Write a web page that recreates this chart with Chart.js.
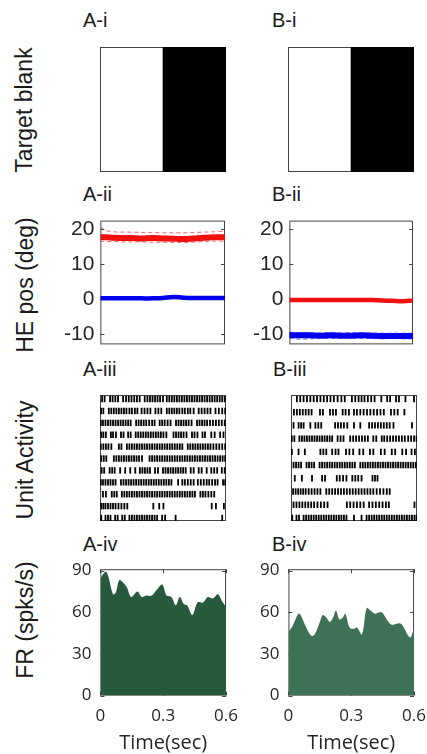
<!DOCTYPE html>
<html>
<head>
<meta charset="utf-8">
<script src="https://cdn.jsdelivr.net/npm/chart.js@4.4.0/dist/chart.umd.min.js"></script>
<style>
  body { margin: 0; background: #fff; width: 427px; height: 754px; position: relative; overflow: hidden; }
  canvas { position: absolute; }
  .lbl { position: absolute; font-family: "Liberation Sans", Arial, sans-serif; font-size: 20px; line-height: 1; color: #1a1a1a; white-space: nowrap; }
  .rot { position: absolute; font-family: "Liberation Sans", Arial, sans-serif; font-size: 23px; line-height: 1; color: #1a1a1a; white-space: nowrap; transform: translate(-50%, -50%) rotate(-90deg); }
</style>
</head>
<body>
<div class="lbl" style="left:83px; top:10px">A-i</div>
<div class="lbl" style="left:272px; top:10px">B-i</div>
<div class="lbl" style="left:83px; top:184px">A-ii</div>
<div class="lbl" style="left:272px; top:184px">B-ii</div>
<div class="lbl" style="left:83px; top:359px">A-iii</div>
<div class="lbl" style="left:273px; top:359px">B-iii</div>
<div class="lbl" style="left:83px; top:534px">A-iv</div>
<div class="lbl" style="left:272px; top:534px">B-iv</div>
<div class="rot" style="left:24px; top:110px">Target blank</div>
<div class="rot" style="left:25px; top:285px">HE pos (deg)</div>
<div class="rot" style="left:25px; top:460px">Unit Activity</div>
<div class="rot" style="left:25px; top:620px">FR (spks/s)</div>

<script>
// ---- data ----
// target blank: dark half of the screen (0..1 across the panel)
const blankDark = [0.5, 1];

// head/eye position traces (deg), mean and +/- spread
const heTime = [0, 0.03, 0.06, 0.1, 0.15, 0.2, 0.25, 0.3, 0.35, 0.4, 0.45, 0.5, 0.55, 0.6];
const aRed   = [17.8, 17.7, 17.6, 17.5, 17.5, 17.4, 17.5, 17.4, 17.3, 17.2, 17.4, 17.6, 17.7, 17.7];
const aRedHi = [20.6, 19.6, 19.3, 19.2, 19.2, 19.1, 19.1, 19.0, 19.0, 19.0, 19.1, 19.2, 19.3, 19.4];
const aRedLo = [16.6, 16.5, 16.5, 16.4, 16.4, 16.4, 16.3, 16.3, 16.2, 16.2, 16.3, 16.5, 16.6, 16.6];
const aBlue  = [0.2, 0.2, 0.2, 0.2, 0.2, 0.2, 0.2, 0.3, 0.6, 0.4, 0.3, 0.3, 0.3, 0.3];
const bRed   = [-0.3, -0.3, -0.3, -0.3, -0.3, -0.3, -0.3, -0.3, -0.3, -0.3, -0.4, -0.5, -0.6, -0.4];
const bBlue  = [-10.3, -10.4, -10.4, -10.4, -10.5, -10.4, -10.5, -10.5, -10.4, -10.5, -10.6, -10.6, -10.6, -10.6];
const bBlueHi = [-9.5, -9.6, -9.6, -9.7, -9.7, -9.6, -9.7, -9.7, -9.7, -9.8, -9.8, -9.8, -9.8, -9.8];
const bBlueLo = [-11.2, -11.4, -11.5, -11.4, -11.3, -11.3, -11.3, -11.2, -11.3, -11.3, -11.4, -11.3, -11.4, -11.4];
const heTicks = [-10, 0, 10, 20];

// spike times (ms) for each trial
const rasterA = [
  [10, 22, 48, 60, 73, 86, 110, 124, 137, 150, 163, 176, 189, 213, 226, 238, 250, 262, 274, 286, 300, 318, 330, 342, 354, 366, 378, 390, 402, 414, 426, 438, 450, 462, 474, 486, 498, 510, 522, 534, 546, 558, 570, 582, 594],
  [5, 16, 42, 54, 66, 78, 90, 102, 114, 126, 140, 152, 166, 178, 198, 212, 226, 240, 264, 278, 292, 318, 330, 342, 354, 366, 378, 392, 404, 418, 430, 446, 470, 484, 498, 512, 526, 550, 566, 582, 596],
  [4, 14, 26, 38, 50, 62, 74, 86, 98, 110, 122, 134, 146, 172, 184, 196, 208, 220, 234, 248, 260, 284, 296, 308, 322, 336, 362, 374, 386, 398, 410, 422, 436, 462, 474, 486, 498, 510, 524, 538, 552, 566, 580, 594],
  [6, 16, 28, 52, 62, 76, 100, 112, 134, 146, 170, 182, 194, 206, 218, 230, 242, 254, 266, 278, 290, 302, 316, 350, 362, 374, 386, 398, 412, 438, 450, 464, 488, 500, 530, 546, 572, 588],
  [4, 16, 28, 40, 54, 90, 102, 128, 140, 152, 164, 176, 188, 200, 212, 224, 236, 248, 260, 272, 284, 296, 308, 320, 332, 344, 356, 368, 380, 392, 418, 430, 442, 454, 466, 478, 490, 502, 514, 526, 540, 554, 568, 582, 596],
  [6, 18, 30, 66, 78, 90, 102, 114, 126, 138, 150, 162, 174, 186, 200, 236, 248, 260, 272, 284, 296, 308, 320, 332, 344, 356, 368, 380, 392, 404, 416, 428, 440, 452, 464, 476, 488, 500, 512, 524, 536, 548, 560, 572, 584, 596],
  [8, 20, 46, 58, 70, 96, 120, 144, 168, 190, 202, 214, 226, 238, 262, 276, 300, 312, 324, 336, 348, 360, 372, 384, 396, 408, 432, 446, 470, 484, 508, 530, 544, 558, 580, 594],
  [4, 14, 26, 38, 50, 62, 74, 100, 112, 124, 136, 148, 160, 172, 184, 196, 208, 220, 232, 244, 256, 268, 280, 292, 304, 316, 328, 340, 372, 392, 404, 418, 432, 446, 466, 480, 494, 508, 520, 534, 548, 560, 586, 596],
  [14, 28, 56, 68, 80, 104, 116, 128, 140, 152, 164, 176, 188, 200, 212, 224, 236, 248, 260, 272, 284, 296, 308, 320, 332, 344, 356, 368, 380, 392, 404, 416, 428, 440, 452, 478, 490, 502, 516, 530, 544],
  [6, 16, 26, 38, 50, 62, 74, 88, 102, 116, 130, 254, 282, 302, 532, 552, 590],
  [6, 26, 38, 50, 72, 84, 106, 118, 140, 152, 164, 176, 188, 200, 212, 224, 236, 248, 260, 272, 296, 310, 360, 582]
];
const rasterB = [
  [28, 44, 60, 76, 92, 108, 124, 140, 156, 172, 188, 204, 222, 240, 256, 290, 306, 322, 336, 350, 366, 382, 398, 430, 458, 472, 500, 514, 545, 586],
  [14, 28, 42, 56, 70, 84, 98, 138, 152, 186, 200, 214, 246, 260, 276, 300, 314, 330, 346, 362, 378, 394, 410, 426, 442, 476, 492, 508, 540],
  [12, 36, 48, 60, 92, 116, 130, 144, 210, 224, 238, 252, 268, 300, 330, 372, 386, 400, 414, 428, 442, 456, 470, 488, 576],
  [4, 16, 40, 52, 64, 76, 88, 100, 112, 124, 136, 148, 160, 172, 184, 196, 222, 236, 250, 282, 296, 310, 324, 338, 352, 366, 392, 406, 432, 444, 458, 472, 486, 500, 514, 528, 542, 558, 572, 586, 598],
  [4, 36, 66, 140, 154, 168, 196, 212, 226, 262, 278, 296, 326, 344, 376, 392, 428, 446, 480, 496, 530, 548, 574, 590],
  [12, 24, 36, 48, 74, 86, 98, 110, 136, 148, 160, 172, 184, 196, 208, 220, 232, 244, 256, 268, 280, 292, 304, 330, 342, 354, 366, 378, 390, 402, 414, 426, 438, 450, 462, 474, 486, 498, 510, 522, 534, 546, 558, 570, 582, 594],
  [18, 52, 100, 148, 162, 218, 232, 248, 264, 292, 306, 320, 336, 388, 400, 412],
  [10, 22, 34, 46, 58, 70, 84, 98, 112, 126, 140, 168, 182, 196, 210, 224, 238, 252, 266, 280, 294, 308, 322, 336, 350, 364, 378, 392, 408, 424, 440, 456, 470],
  [12, 26, 40, 54, 68, 82, 96, 110, 126, 142, 158, 174, 266, 282, 298, 314, 330, 346, 372, 388, 404, 420, 436, 452, 466, 588],
  [6, 26, 38, 60, 72, 84, 96, 108, 120, 132, 144, 156, 168, 180, 192, 204, 216, 228, 240, 252, 264, 300, 336, 360, 372, 384, 396, 408, 420, 432, 444, 456, 468, 480, 492, 504, 516, 528, 540, 552, 564, 576, 588, 598]
];

// firing rate (spks/s)
const frTimeA = [0, 0.016, 0.028, 0.039, 0.06, 0.073, 0.09, 0.11, 0.126, 0.147, 0.177, 0.197, 0.221, 0.245, 0.268, 0.295, 0.316, 0.339, 0.36, 0.379, 0.398, 0.414, 0.439, 0.464, 0.49, 0.513, 0.537, 0.561, 0.581, 0.6];
const frA     = [84, 88, 89, 85, 73, 74, 83, 81, 78, 71, 75, 71, 72, 72, 76, 80, 72, 71, 65, 71, 66, 65, 58, 67, 67, 71, 70, 73, 68, 64];
const frTimeB = [0, 0.019, 0.047, 0.058, 0.082, 0.109, 0.125, 0.15, 0.164, 0.182, 0.197, 0.213, 0.227, 0.243, 0.259, 0.272, 0.292, 0.311, 0.327, 0.351, 0.374, 0.393, 0.414, 0.445, 0.469, 0.493, 0.532, 0.551, 0.572, 0.584, 0.6];
const frB     = [46, 50, 59, 58, 50, 43, 44, 53, 58, 56, 53, 56, 61, 55, 56, 59, 49, 48, 49, 44, 63, 61, 59, 60, 55, 51, 52, 49, 43, 42, 49];
const frTicks = [0, 30, 60, 90];
const timeTicks = [0, 0.3, 0.6];

// ---- helpers ----
const ink = '#262626';

// box round the plot area plus inward tick marks (MATLAB look)
const framePlugin = {
  id: 'frame',
  beforeDatasetsDraw(chart, args, opts) {
    const { ctx, chartArea: a } = chart;
    ctx.save();
    ctx.strokeStyle = '#444';
    ctx.lineWidth = 1;
    ctx.strokeRect(a.left + 0.5, a.top + 0.5, a.width - 1, a.height - 1);
    const len = 4;
    if (opts.yTicks) {
      const ys = chart.scales.y;
      ys.ticks.forEach(t => {
        const p = Math.round(ys.getPixelForValue(t.value)) + 0.5;
        ctx.beginPath();
        ctx.moveTo(a.left, p); ctx.lineTo(a.left + len, p);
        ctx.moveTo(a.right, p); ctx.lineTo(a.right - len, p);
        ctx.stroke();
      });
    }
    if (opts.xTicks) {
      const xs = chart.scales.x;
      xs.ticks.forEach(t => {
        const p = Math.round(xs.getPixelForValue(t.value)) + 0.5;
        ctx.beginPath();
        ctx.moveTo(p, a.top); ctx.lineTo(p, a.top + len);
        ctx.moveTo(p, a.bottom); ctx.lineTo(p, a.bottom - len);
        ctx.stroke();
      });
    }
    ctx.restore();
  }
};

// create a chart and move/resize its canvas so the plot area lands on box
function makePanel(box, config) {
  const cv = document.createElement('canvas');
  cv.width = box.w + 90;
  cv.height = box.h + 80;
  document.body.appendChild(cv);
  config.options = Object.assign({
    responsive: false, maintainAspectRatio: false, animation: false, events: []
  }, config.options);
  config.plugins = [framePlugin];
  const chart = new Chart(cv, config);
  for (let i = 0; i < 2; i++) {
    const a = chart.chartArea;
    chart.resize(Math.round(chart.width + box.w - (a.right - a.left)),
                 Math.round(chart.height + box.h - (a.bottom - a.top)));
    chart.update('none');
  }
  const a = chart.chartArea;
  cv.style.left = (box.x - a.left) + 'px';
  cv.style.top = (box.y - a.top) + 'px';
  return chart;
}

const noPlugins = { legend: { display: false }, tooltip: { enabled: false } };

function blankPanel(box) {
  return makePanel(box, {
    type: 'bar',
    data: {
      labels: ['blank'],
      datasets: [{ data: [blankDark], backgroundColor: '#000', borderWidth: 0, barPercentage: 1, categoryPercentage: 1 }]
    },
    options: {
      indexAxis: 'y',
      layout: { padding: 0 },
      plugins: noPlugins,
      scales: { x: { display: false, min: 0, max: 1 }, y: { display: false } }
    }
  });
}

function trace(ys, color, width, dashed) {
  return {
    data: ys.map((v, i) => ({ x: heTime[i], y: v })),
    borderColor: color, borderWidth: width, borderDash: dashed ? [4, 3] : [],
    pointRadius: 0, tension: 0.3, fill: false
  };
}

function hePanel(box, datasets) {
  return makePanel(box, {
    type: 'line',
    data: { datasets },
    options: {
      layout: { padding: { top: 4, right: 4, bottom: 4 } },
      plugins: Object.assign({ frame: { yTicks: true } }, noPlugins),
      scales: {
        x: { type: 'linear', display: false, min: 0, max: 0.6 },
        y: {
          min: -13, max: 22.5,
          grid: { display: false, drawTicks: false }, border: { display: false },
          afterBuildTicks: s => { s.ticks = heTicks.map(v => ({ value: v })); },
          ticks: { color: ink, padding: 6, font: { family: '"Liberation Sans", Arial, sans-serif', size: 21 } }
        }
      }
    }
  });
}

function rasterPanel(box, rows, yMin, yMax) {
  const pts = [];
  rows.forEach((row, i) => row.forEach(t => pts.push({ x: t, y: i })));
  return makePanel(box, {
    type: 'scatter',
    data: {
      datasets: [{
        data: pts, pointStyle: 'line', rotation: 90, pointRadius: 3.2,
        pointBorderColor: '#000', pointBorderWidth: 1.8, pointHoverRadius: 3.2
      }]
    },
    options: {
      layout: { padding: 0 },
      plugins: noPlugins,
      scales: {
        x: { display: false, min: 0, max: 600 },
        y: { display: false, reverse: true, min: yMin, max: yMax }
      }
    }
  });
}

function frPanel(box, times, rates, color) {
  const tickFont = { family: '"Open Sans", sans-serif', size: 17 };
  return makePanel(box, {
    type: 'line',
    data: {
      datasets: [{
        data: rates.map((v, i) => ({ x: times[i], y: v })),
        borderWidth: 0, backgroundColor: color, fill: 'origin', pointRadius: 0, tension: 0.35
      }]
    },
    options: {
      layout: { padding: { top: 6, right: 2 } },
      plugins: Object.assign({ frame: { yTicks: true, xTicks: true } }, noPlugins),
      scales: {
        x: {
          type: 'linear', min: 0, max: 0.6,
          grid: { display: false, drawTicks: false }, border: { display: false },
          afterBuildTicks: s => { s.ticks = timeTicks.map(v => ({ value: v })); },
          ticks: { color: ink, padding: 10, font: tickFont, maxRotation: 0, callback: v => String(v) },
          title: { display: true, text: 'Time(sec)', color: ink, padding: { top: -5, bottom: 0 }, font: { family: '"Open Sans", sans-serif', size: 20 } }
        },
        y: {
          min: 0, max: 91,
          grid: { display: false, drawTicks: false }, border: { display: false },
          afterBuildTicks: s => { s.ticks = frTicks.map(v => ({ value: v })); },
          ticks: { color: ink, padding: 9, font: tickFont }
        }
      }
    }
  });
}

// ---- panels ----
blankPanel({ x: 100, y: 47, w: 126, h: 125 });
blankPanel({ x: 288, y: 47, w: 126, h: 125 });

hePanel({ x: 100, y: 221, w: 125, h: 124 }, [
  trace(aRedHi, 'rgba(240,40,40,0.7)', 1, true),
  trace(aRedLo, 'rgba(240,40,40,0.7)', 1, true),
  trace(aRed, '#f01010', 6),
  trace(aBlue, '#0000f0', 4.5)
]);
hePanel({ x: 289, y: 221, w: 124, h: 124 }, [
  trace(bBlueHi, 'rgba(30,30,240,0.7)', 1, true),
  trace(bBlueLo, 'rgba(30,30,240,0.7)', 1, true),
  trace(bBlue, '#0000f0', 6),
  trace(bRed, '#f01010', 4.5)
]);

rasterPanel({ x: 100, y: 395, w: 126, h: 126 }, rasterA, -0.34, 10.25);
rasterPanel({ x: 291, y: 395, w: 126, h: 126 }, rasterB, -0.3, 9.23);

frPanel({ x: 100, y: 569, w: 126, h: 126 }, frTimeA, frA, '#275a3d');
frPanel({ x: 288, y: 569, w: 126, h: 126 }, frTimeB, frB, '#3e7257');
</script>
</body>
</html>
